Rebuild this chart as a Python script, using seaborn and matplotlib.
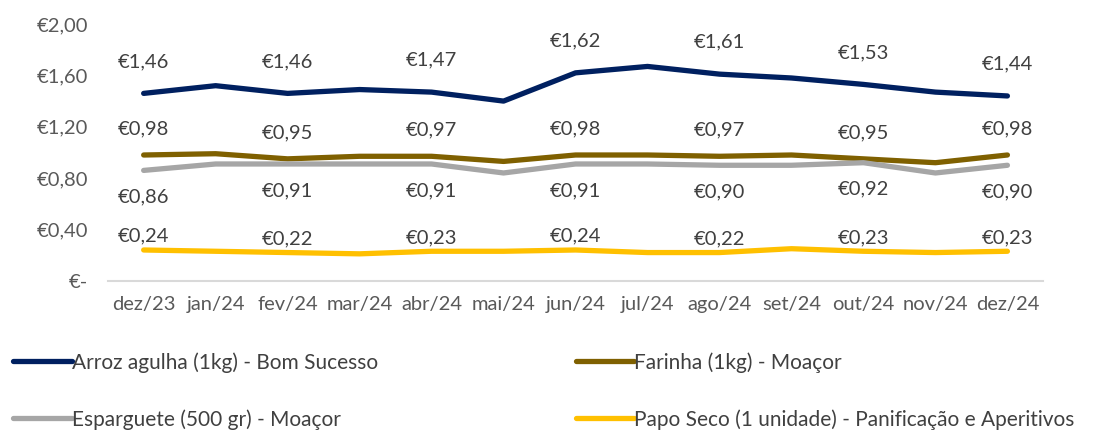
import matplotlib
matplotlib.use("Agg")
import matplotlib.pyplot as plt
import seaborn as sns
import pandas as pd

months = ["dez/23", "jan/24", "fev/24", "mar/24", "abr/24", "mai/24", "jun/24",
          "jul/24", "ago/24", "set/24", "out/24", "nov/24", "dez/24"]
arroz = [1.46, 1.52, 1.46, 1.49, 1.47, 1.40, 1.62, 1.67, 1.61, 1.58, 1.53, 1.47, 1.44]
farinha = [0.98, 0.99, 0.95, 0.97, 0.97, 0.93, 0.98, 0.98, 0.97, 0.98, 0.95, 0.92, 0.98]
esparguete = [0.86, 0.91, 0.91, 0.91, 0.91, 0.84, 0.91, 0.91, 0.90, 0.90, 0.92, 0.84, 0.90]
papo_seco = [0.24, 0.23, 0.22, 0.21, 0.23, 0.23, 0.24, 0.22, 0.22, 0.25, 0.23, 0.22, 0.23]

names = ["Arroz agulha (1kg) - Bom Sucesso", "Farinha (1kg) - Moaçor",
         "Esparguete (500 gr) - Moaçor", "Papo Seco (1 unidade) - Panificação e Aperitivos"]
colors = ["#002060", "#7F6000", "#A6A6A6", "#FFC000"]
series = [arroz, farinha, esparguete, papo_seco]

rows = []
for name, vals in zip(names, series):
    for m, v in zip(months, vals):
        rows.append({"mes": m, "preco": v, "produto": name})
df = pd.DataFrame(rows)

sns.set_style("white")
plt.rcParams["font.family"] = ["Lato", "DejaVu Sans"]
txt = "#404040"

fig = plt.figure(figsize=(11.1, 4.3), dpi=100)
ax = fig.add_axes([0.097, 0.347, 0.843, 0.597])
sns.lineplot(data=df, x="mes", y="preco", hue="produto", palette=dict(zip(names, colors)),
             linewidth=3.8, sort=False, legend=False, ax=ax)

ax.set_xlim(-0.5, len(months) - 0.5)
ax.set_ylim(0, 2.0)
yt = [0, 0.4, 0.8, 1.2, 1.6, 2.0]
ax.set_yticks(yt)
ax.set_yticklabels(["€-"] + [f"€{v:.2f}".replace(".", ",") for v in yt[1:]])
ax.set_xlabel("")
ax.set_ylabel("")
ax.tick_params(axis="both", length=0, labelsize=14.5, labelcolor="#595959")
ax.tick_params(axis="y", pad=14)
ax.tick_params(axis="x", pad=11)
for s in ["top", "right", "left"]:
    ax.spines[s].set_visible(False)
ax.spines["bottom"].set_color("#D9D9D9")
ax.spines["bottom"].set_linewidth(1.5)

# data labels on every other month
offsets = [23, 19, -19, 10]
for vals, off in zip(series, offsets):
    for i in range(0, len(months), 2):
        ax.annotate(f"€{vals[i]:.2f}".replace(".", ","), (i, vals[i]),
                    xytext=(0, off), textcoords="offset points",
                    ha="center", va="center", fontsize=14.5, color=txt)

handles = [plt.Line2D([], [], color=c, linewidth=3.8) for c in colors]
order = [0, 2, 1, 3]
fig.legend([handles[i] for i in order], [names[i] for i in order],
           loc="upper left", bbox_to_anchor=(-0.005, 0.225), ncol=2, frameon=False,
           fontsize=15, handlelength=2.8, handletextpad=0.0, columnspacing=9.5,
           labelspacing=1.75, labelcolor=txt)

fig.savefig("out.png", dpi=100)
